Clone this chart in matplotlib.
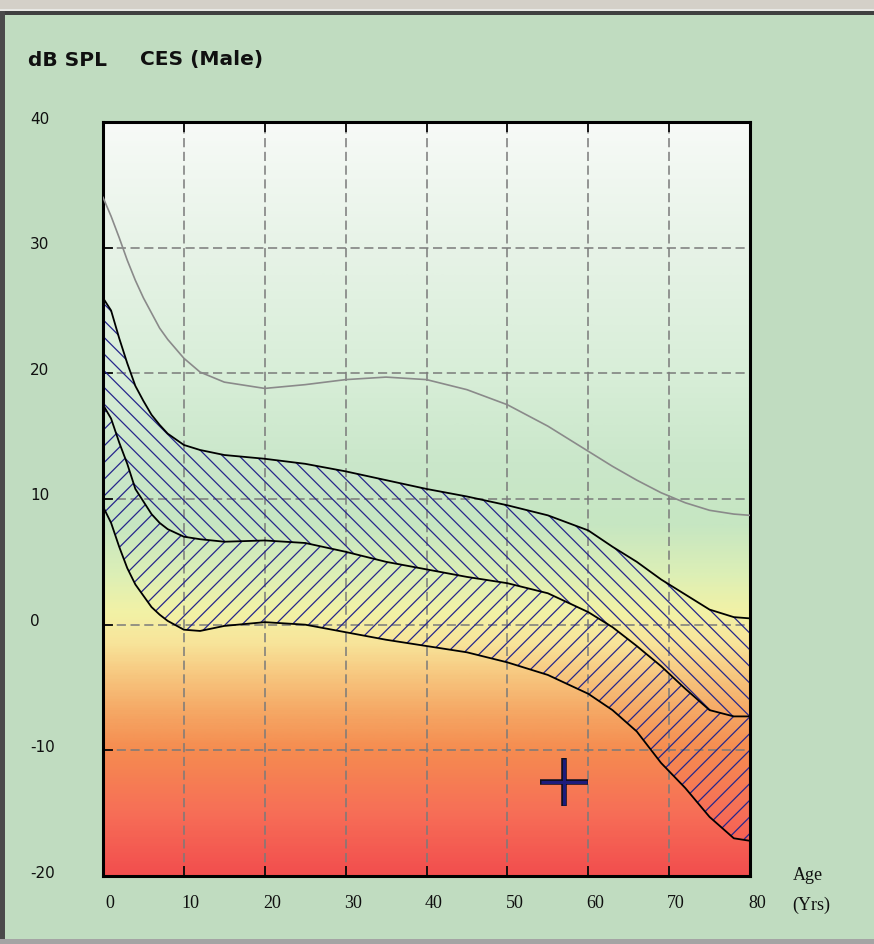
import matplotlib
matplotlib.use("Agg")
import matplotlib.pyplot as plt
import matplotlib.transforms as mtransforms
from matplotlib.colors import LinearSegmentedColormap
from matplotlib.patches import Rectangle
import numpy as np

# ---- data -------------------------------------------------------------
ages = [0, 1, 2, 3, 4, 5, 6, 7, 8, 10, 12, 15, 20, 25, 30, 35, 40, 45,
        50, 55, 60, 63, 66, 69, 72, 75, 78, 80]

# thin grey reference curve
reference_curve = [34.0, 32.5, 30.8, 29.0, 27.4, 26.0, 24.8, 23.6, 22.7, 21.2,
                   20.1, 19.3, 18.8, 19.1, 19.5, 19.7, 19.5, 18.7, 17.5, 15.8,
                   13.8, 12.6, 11.5, 10.5, 9.7, 9.1, 8.8, 8.7]

# upper band edge
band_upper = [26.0, 25.0, 22.8, 20.8, 19.0, 17.8, 16.7, 15.9, 15.2, 14.3,
              13.9, 13.5, 13.2, 12.8, 12.2, 11.5, 10.8, 10.2, 9.5, 8.7,
              7.5, 6.2, 5.0, 3.6, 2.4, 1.2, 0.6, 0.5]

# boundary between the two hatched bands
band_middle = [17.5, 16.4, 14.5, 12.8, 10.8, 9.8, 8.8, 8.1, 7.6, 7.0,
               6.8, 6.6, 6.7, 6.5, 5.8, 5.0, 4.4, 3.8, 3.3, 2.5,
               1.0, -0.2, -1.7, -3.3, -5.1, -6.8, -7.3, -7.3]

# lower band edge
band_lower = [9.4, 8.1, 6.2, 4.5, 3.2, 2.3, 1.4, 0.8, 0.3, -0.4,
              -0.5, -0.1, 0.2, 0.0, -0.6, -1.2, -1.7, -2.2, -3.0, -4.0,
              -5.5, -6.8, -8.5, -11.0, -13.0, -15.3, -17.0, -17.2]

# measured point
point_age = [57]
point_level = [-12.5]

x_ticks = [0, 10, 20, 30, 40, 50, 60, 70, 80]
y_ticks = [40, 30, 20, 10, 0, -10, -20]

# ---- figure -----------------------------------------------------------
W, H = 874, 944
DPI = 100
fig = plt.figure(figsize=(W / DPI, H / DPI), dpi=DPI)
fig.patch.set_facecolor("#c0dcc0")
plt.rcParams["hatch.linewidth"] = 0.9


def px_rect(x0, y0, x1, y1, color):
    """Rectangle given in pixel coordinates measured from the top-left."""
    fig.patches.append(Rectangle((x0 / W, 1 - y1 / H), (x1 - x0) / W,
                                 (y1 - y0) / H, transform=fig.transFigure,
                                 facecolor=color, edgecolor="none", zorder=-5))


# window frame
px_rect(0, 0, W, 9, "#d4d0c8")
px_rect(0, 9, W, 11, "#e8e8e4")
px_rect(0, 11, W, 15, "#404040")
px_rect(0, 11, 5, H, "#4a4a4a")
px_rect(0, 939, W, H, "#a4a4a4")

ax_l, ax_r, ax_t, ax_b = 103, 750, 122, 876
ax = fig.add_axes([ax_l / W, 1 - ax_b / H, (ax_r - ax_l) / W, (ax_b - ax_t) / H])
ax.set_xlim(0, 80)
ax.set_ylim(-20, 40)

# background colour wash
stops = [(-20, "#f24e4e"), (-15, "#f76f57"), (-10, "#f58c50"), (-7, "#f5a865"),
         (-4, "#f7c880"), (-1.5, "#f8e49a"), (1, "#f2f2a6"), (4, "#dcefb6"),
         (8, "#c6e6c2"), (13, "#cae7ca"), (20, "#d8eed8"), (30, "#e7f3e7"),
         (40, "#f7faf7")]
lo, hi = stops[0][0], stops[-1][0]
cmap = LinearSegmentedColormap.from_list(
    "wash", [((v - lo) / (hi - lo), c) for v, c in stops])
grad = np.linspace(0, 1, 600).reshape(-1, 1)
ax.imshow(grad, cmap=cmap, origin="lower", aspect="auto",
          extent=[0, 80, -20, 40], zorder=0, interpolation="bilinear")

# grid
ax.set_xticks(x_ticks)
ax.set_yticks(y_ticks)
ax.grid(True, color="#7a7a7a", linestyle=(0, (6, 3)), linewidth=1.1, zorder=0.5)

# hatched bands
hatch_color = "#26268c"
ax.fill_between(ages, band_upper, band_middle, facecolor="none",
                edgecolor=hatch_color, hatch="\\\\", linewidth=0, zorder=2)
ax.fill_between(ages, band_middle, band_lower, facecolor="none",
                edgecolor=hatch_color, hatch="//", linewidth=0, zorder=2)

# curves
ax.plot(ages, reference_curve, color="#8a8a8a", lw=1.2, zorder=3)
for curve in (band_upper, band_middle, band_lower):
    ax.plot(ages, curve, color="black", lw=1.3, zorder=3)

# measured point: navy cross with dark outline
ax.plot(point_age, point_level, linestyle="none", marker="+", ms=34, mew=4.0,
        color="#101020", zorder=5)
ax.plot(point_age, point_level, linestyle="none", marker="+", ms=32.5, mew=2.2,
        color="#1c1c7c", zorder=6)

# axes frame and ticks
for s in ax.spines.values():
    s.set_linewidth(2.2)
    s.set_color("black")
ax.tick_params(direction="in", length=7, width=1.2, color="black",
               top=True, right=False, labelleft=False, labelbottom=False)

# tick labels
for v in x_ticks:
    off = mtransforms.ScaledTranslation(7 / DPI, -(903 - ax_b) / DPI,
                                        fig.dpi_scale_trans)
    ax.text(v, 0, str(v), transform=ax.get_xaxis_transform() + off,
            ha="center", va="center", fontsize=13,
            family=["Liberation Serif", "DejaVu Serif"], color="#101010",
            clip_on=False)
for v in y_ticks:
    off = mtransforms.ScaledTranslation(-(ax_l - 30) / DPI, 3 / DPI,
                                        fig.dpi_scale_trans)
    ax.text(0, v, str(v), transform=ax.get_yaxis_transform() + off,
            ha="left", va="center", fontsize=11, color="#101010",
            clip_on=False)

# titles and axis caption
fig.text(28 / W, 1 - 60 / H, "dB SPL", fontsize=14.5, fontweight="bold",
         va="center", ha="left", color="#101010")
fig.text(140 / W, 1 - 60 / H, "CES (Male)", fontsize=14.5, fontweight="bold",
         va="center", ha="left", color="#101010")
fig.text(808 / W, 1 - 875 / H, "Age", fontsize=13,
         family=["Liberation Serif", "DejaVu Serif"], ha="center", va="center",
         color="#101010")
fig.text(811 / W, 1 - 905 / H, "(Yrs)", fontsize=13,
         family=["Liberation Serif", "DejaVu Serif"], ha="center", va="center",
         color="#101010")

fig.savefig("out.png", dpi=DPI, facecolor=fig.get_facecolor())
